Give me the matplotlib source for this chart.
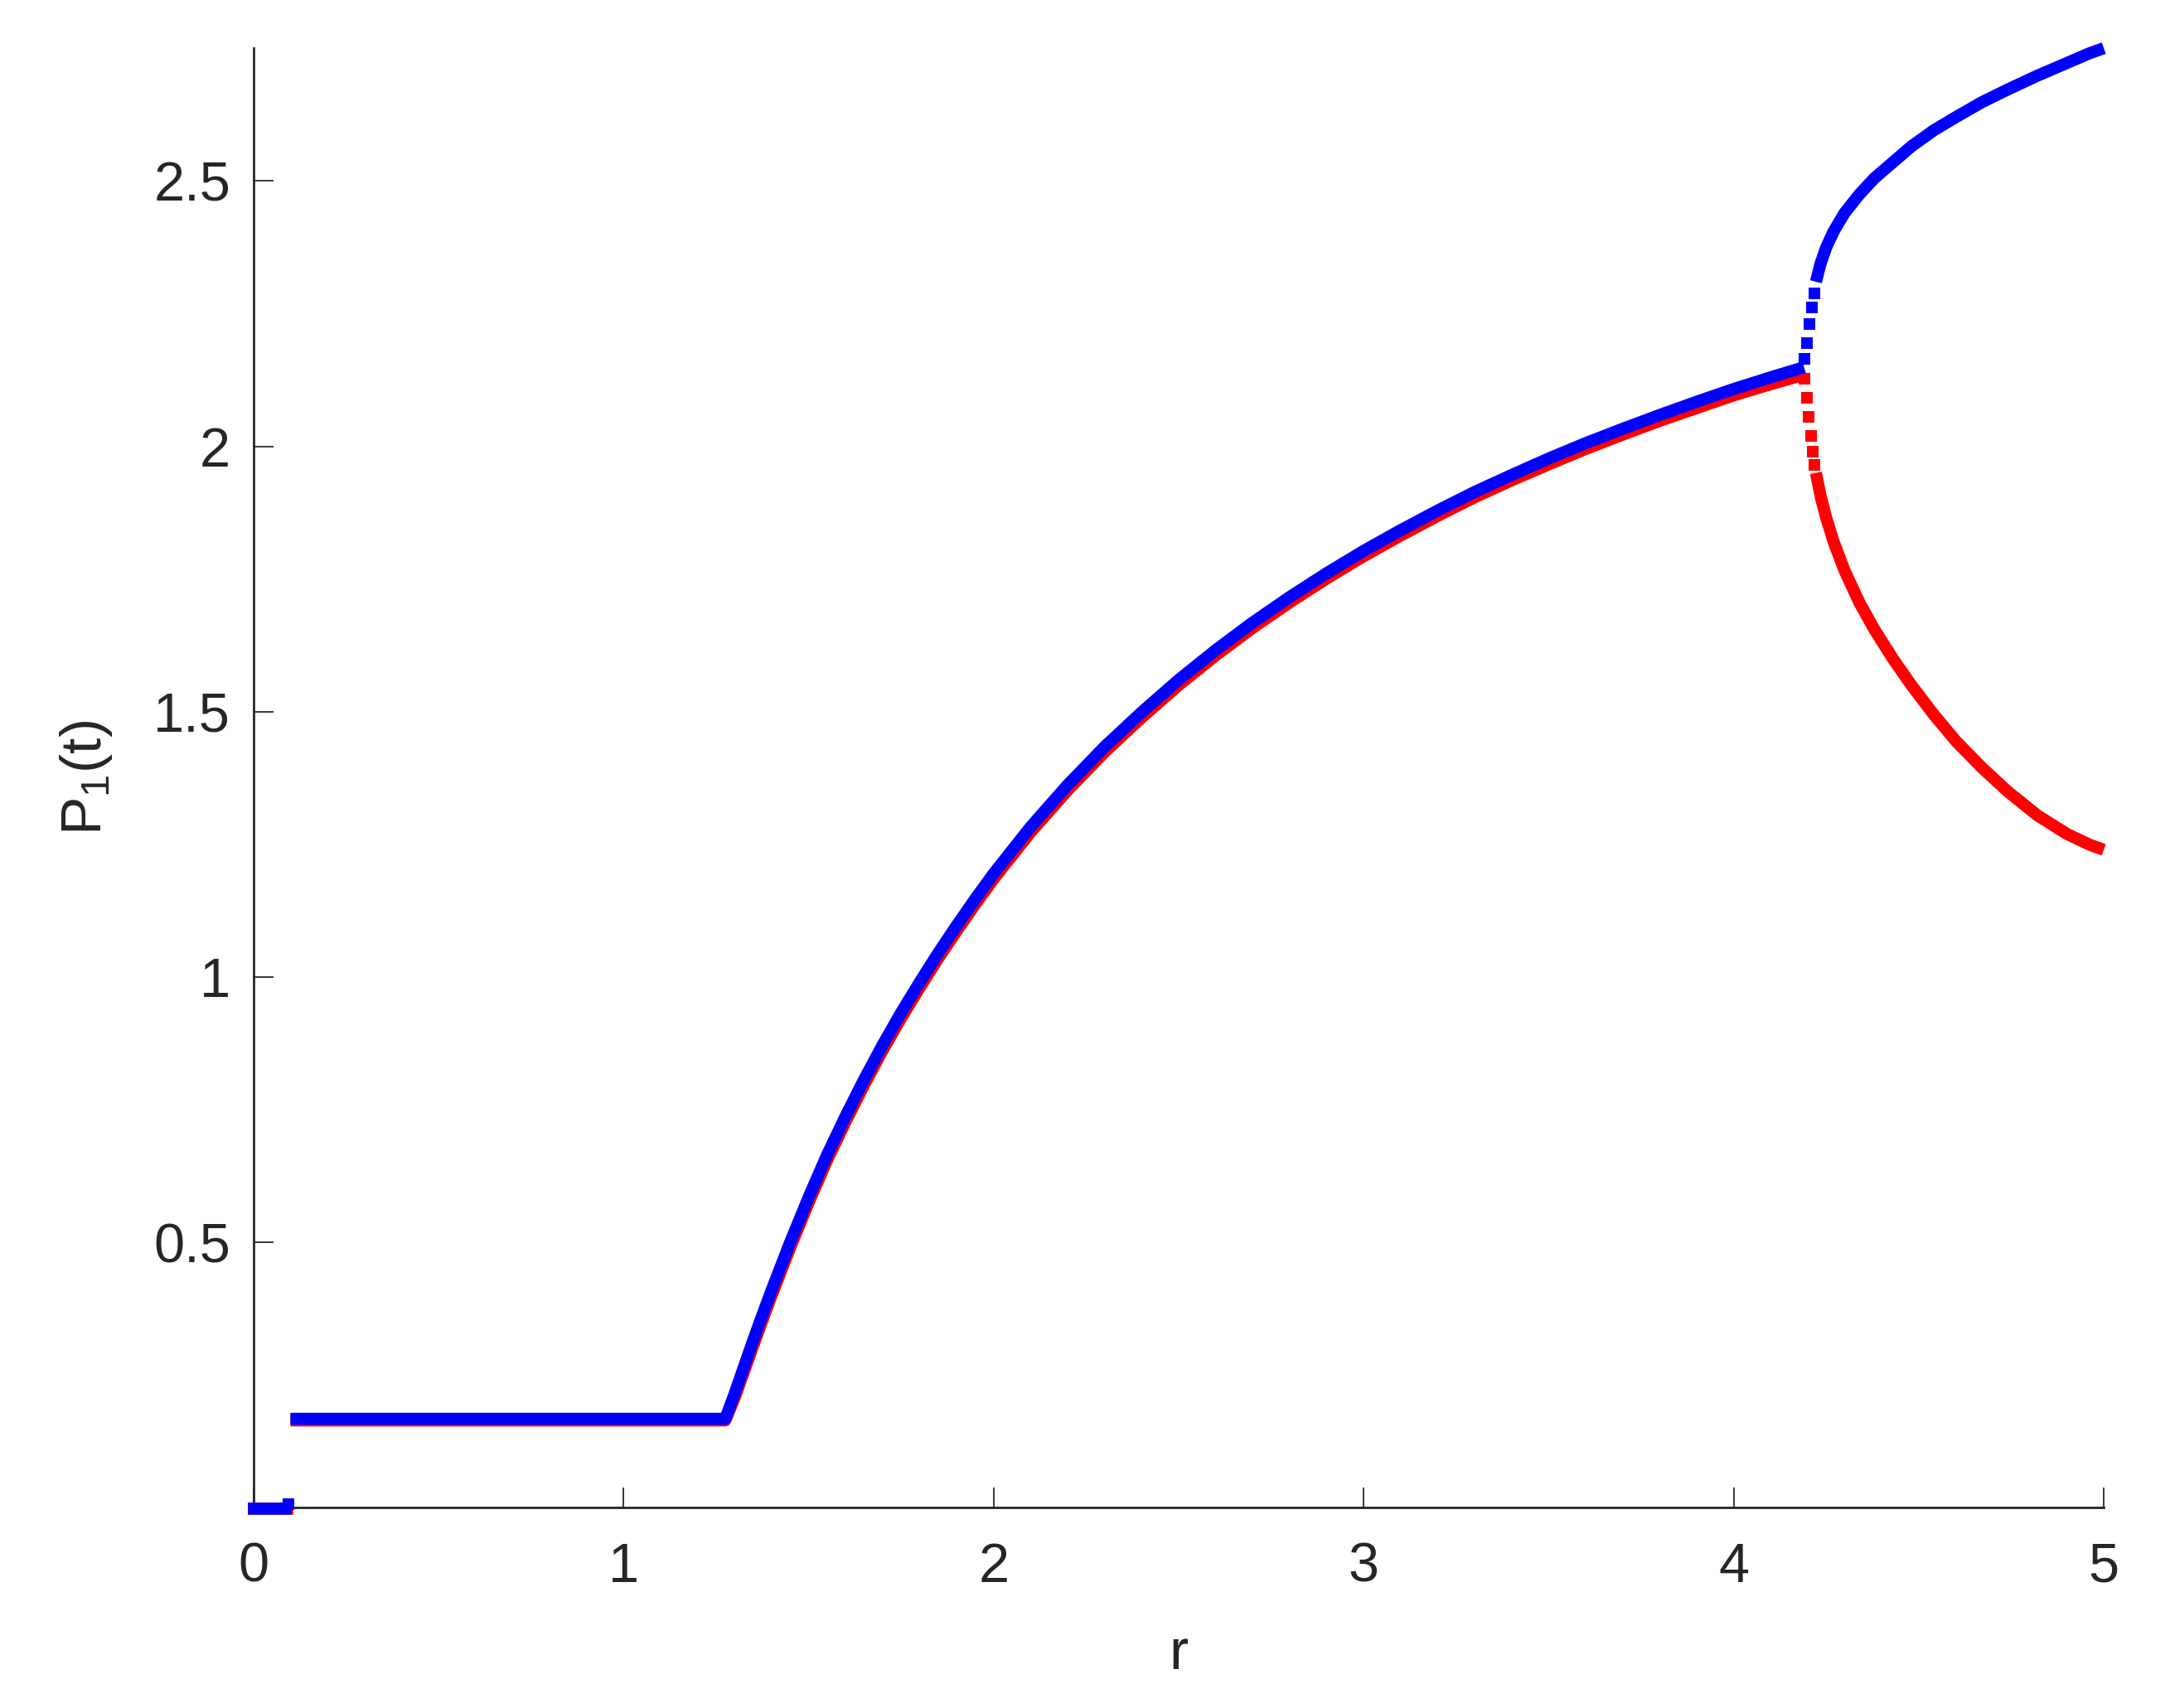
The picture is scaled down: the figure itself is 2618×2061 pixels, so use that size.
import matplotlib
matplotlib.use("Agg")
import matplotlib.pyplot as plt

# ---------------- data ----------------
# blue: trivial branch near r = 0
blue_r0 = [0.0, 0.03, 0.06, 0.085]
blue_p0 = [0.0, 0.0, 0.0, 0.0]
blue_r0b = [0.095]
blue_p0b = [0.008]

# flat + rising branch (blue)
blue_r = [0.10, 0.40, 0.80, 1.20, 1.275, 1.30, 1.325, 1.35, 1.375, 1.40, 1.45, 1.50, 1.55, 1.60,
          1.65, 1.70, 1.75, 1.80, 1.85, 1.90, 1.95, 2.00, 2.10, 2.20, 2.30, 2.40, 2.50, 2.60,
          2.70, 2.80, 2.90, 3.00, 3.10, 3.20, 3.30, 3.40, 3.50, 3.60, 3.70, 3.80, 3.90, 4.00,
          4.10, 4.19]
blue_p = [0.168, 0.168, 0.168, 0.168, 0.168, 0.215, 0.265, 0.315, 0.363, 0.410, 0.500, 0.585, 0.665, 0.738,
          0.807, 0.872, 0.933, 0.990, 1.045, 1.097, 1.147, 1.195, 1.283, 1.362, 1.434, 1.499, 1.560, 1.616,
          1.668, 1.716, 1.761, 1.803, 1.842, 1.879, 1.914, 1.946, 1.977, 2.006, 2.033, 2.059, 2.084, 2.108,
          2.130, 2.149]

# red: same branch, slightly lower (mostly hidden beneath blue)
red_r0 = [0.0, 0.09]
red_p0 = [0.0, 0.0]
red_r = [0.10, 0.80, 1.275, 1.30, 1.325, 1.35, 1.375, 1.40, 1.45, 1.50, 1.55, 1.60,
         1.65, 1.70, 1.75, 1.80, 1.85, 1.90, 1.95, 2.00, 2.10, 2.20, 2.30, 2.40, 2.50, 2.60,
         2.70, 2.80, 2.90, 3.00, 3.10, 3.20, 3.30, 3.40, 3.50, 3.60, 3.70, 3.80, 3.90, 4.00,
         4.10, 4.19]
red_p = [0.165, 0.165, 0.165, 0.207, 0.256, 0.305, 0.353, 0.400, 0.490, 0.575, 0.655, 0.728,
         0.797, 0.862, 0.923, 0.980, 1.035, 1.087, 1.137, 1.185, 1.273, 1.352, 1.424, 1.489, 1.550, 1.606,
         1.658, 1.706, 1.751, 1.793, 1.832, 1.869, 1.904, 1.936, 1.966, 1.995, 2.022, 2.048, 2.072, 2.096,
         2.117, 2.135]

# upper branch after bifurcation (blue)
blue_up_sparse_r = [4.192, 4.198, 4.205, 4.212, 4.218]
blue_up_sparse_p = [2.165, 2.195, 2.230, 2.262, 2.288]
blue_up_r = [4.222, 4.235, 4.25, 4.27, 4.30, 4.34, 4.38, 4.43, 4.48, 4.54, 4.60, 4.67, 4.74,
             4.82, 4.90, 4.96, 5.00]
blue_up_p = [2.310, 2.345, 2.375, 2.405, 2.440, 2.475, 2.505, 2.535, 2.565, 2.595, 2.620, 2.648, 2.672,
             2.698, 2.722, 2.740, 2.750]

# lower branch after bifurcation (red)
red_lo_sparse_r = [4.192, 4.197, 4.203, 4.209, 4.214, 4.218]
red_lo_sparse_p = [2.128, 2.092, 2.055, 2.020, 1.990, 1.965]
red_lo_r = [4.222, 4.235, 4.25, 4.27, 4.30, 4.34, 4.38, 4.43, 4.48, 4.54, 4.60, 4.67, 4.74,
            4.82, 4.90, 4.96, 5.00]
red_lo_p = [1.950, 1.905, 1.865, 1.820, 1.765, 1.705, 1.655, 1.600, 1.550, 1.495, 1.445, 1.395, 1.350,
            1.305, 1.270, 1.250, 1.240]

x_ticks = [0, 1, 2, 3, 4, 5]
y_ticks = [0.5, 1, 1.5, 2, 2.5]
y_tick_labels = ["0.5", "1", "1.5", "2", "2.5"]

# ---------------- style ----------------
plt.rcParams['font.family'] = ['Liberation Sans', 'DejaVu Sans']
plt.rcParams['mathtext.default'] = 'regular'
TXT = '#262626'
BLUE = '#0000ff'
RED = '#ff0000'
LW = 10.5
MS = 10

fig = plt.figure(figsize=(26.18, 20.61), dpi=100)
ax = fig.add_axes([0.1168, 0.1174, 0.8527, 0.8544])

line_kw = dict(lw=LW, solid_capstyle='butt', solid_joinstyle='round', clip_on=False)
cap_kw = dict(lw=LW, solid_capstyle='projecting', clip_on=False)

# red first, blue on top
ax.plot(red_r0, red_p0, color=RED, zorder=2, **cap_kw)
ax.plot(red_r, red_p, color=RED, zorder=2, **line_kw)
ax.plot(red_lo_r, red_lo_p, color=RED, zorder=2, **line_kw)
ax.plot(red_lo_sparse_r, red_lo_sparse_p, 's', color=RED, ms=MS, mew=0, clip_on=False, zorder=2)

ax.plot(blue_r0, blue_p0, color=BLUE, zorder=3, **cap_kw)
ax.plot(blue_r0b, blue_p0b, 's', color=BLUE, ms=MS, mew=0, clip_on=False, zorder=3)
ax.plot(blue_r, blue_p, color=BLUE, zorder=3, **line_kw)
ax.plot(blue_up_r, blue_up_p, color=BLUE, zorder=3, **line_kw)
ax.plot(blue_up_sparse_r, blue_up_sparse_p, 's', color=BLUE, ms=MS, mew=0, clip_on=False, zorder=3)

ax.set_xlim(0, 5)
ax.set_ylim(0.001, 2.75)
ax.set_xticks(x_ticks)
ax.set_xticklabels([str(v) for v in x_ticks])
ax.set_yticks(y_ticks)
ax.set_yticklabels(y_tick_labels)

for s in ['top', 'right']:
    ax.spines[s].set_visible(False)
for s in ['left', 'bottom']:
    ax.spines[s].set_color(TXT)
    ax.spines[s].set_linewidth(2.0)

ax.tick_params(axis='both', direction='in', length=17, width=1.3, color=TXT,
               labelcolor=TXT, labelsize=48)
ax.tick_params(axis='x', pad=30)
ax.tick_params(axis='y', pad=20)

ax.set_xlabel('r', fontsize=50, color=TXT, labelpad=30)
ax.set_ylabel('P$_1$(t)', fontsize=50, color=TXT, labelpad=34)

fig.savefig('out.png', dpi=100, facecolor='white')
